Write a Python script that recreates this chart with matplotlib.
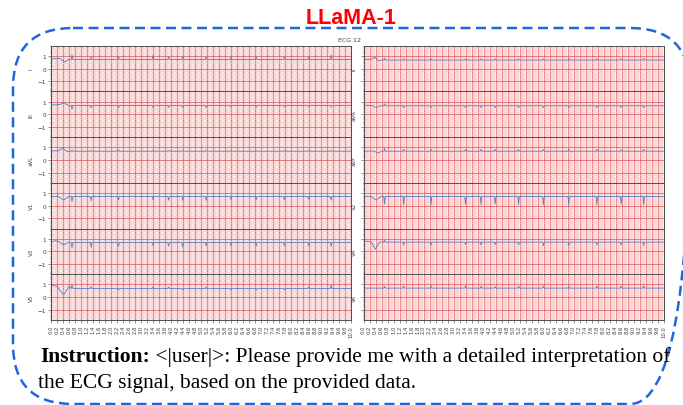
import numpy as np
import matplotlib
matplotlib.use('Agg')
import matplotlib.pyplot as plt
from matplotlib.patches import FancyBboxPatch
from matplotlib.ticker import AutoMinorLocator, MultipleLocator

W, H = 683, 406

# beat times (s), shared by every lead
beat_times = [0.70, 1.34, 2.25, 3.40, 3.92, 4.39, 5.17, 6.00, 6.84, 7.78, 8.59, 9.34]

lead_names = ['I', 'II', 'III', 'aVR', 'aVL', 'aVF',
              'V1', 'V2', 'V3', 'V4', 'V5', 'V6']

# flat level of each trace (mV)
baselines = [0.72, 0.67, 0.69, 0.67, 0.69, 0.69,
             0.73, 0.73, 0.71, 0.73, 0.68, 0.71]

# start of each trace, before the first beat
onset_t = [[0, 0.30, 0.45, 0.58],
           [0, 0.25, 0.38, 0.50, 0.60],
           [0, 0.30, 0.45, 0.60],
           [0, 0.30, 0.42, 0.55],
           [0, 0.25, 0.38, 0.55],
           [0, 0.35, 0.50, 0.60],
           [0, 0.25, 0.42, 0.60],
           [0, 0.25, 0.42, 0.60],
           [0, 0.15, 0.30, 0.42, 0.60],
           [0, 0.25, 0.40, 0.52, 0.60],
           [0, 0.20, 0.42, 0.60],
           [0, 0.60]]
onset_v = [[0.75, 0.80, 0.50, 0.72],
           [0.70, 0.72, 0.88, 0.62, 0.67],
           [0.72, 0.78, 0.90, 0.65],
           [0.70, 0.68, 0.53, 0.67],
           [0.72, 0.72, 0.93, 0.65],
           [0.70, 0.70, 0.56, 0.69],
           [0.75, 0.72, 0.44, 0.72],
           [0.75, 0.72, 0.44, 0.75],
           [0.72, 0.85, 0.72, 0.52, 0.72],
           [0.82, 0.75, 0.17, 0.72, 0.75],
           [0.97, 0.85, 0.17, 0.85],
           [0.71, 0.71]]

# spike height at each beat, relative to baseline (mV)
spike_amp = [
    [0.35, 0.20, 0.20, 0.30, 0.20, 0.20, 0.20, 0.20, 0.20, 0.20, 0.20, 0.35],
    [0.15, 0.10, 0.12, 0.10, 0.10, 0.10, 0.10, 0.10, 0.12, 0.10, 0.10, 0.12],
    [-0.30, -0.18, -0.18, -0.15, -0.15, -0.15, -0.15, -0.12, -0.12, -0.12, -0.12, -0.12],
    [0.15, -0.15, -0.15, -0.15, -0.15, -0.15, -0.15, -0.15, -0.15, -0.15, -0.15, -0.15],
    [0.10, 0.06, 0.10, 0.06, 0.06, 0.06, 0.06, 0.06, 0.06, 0.06, 0.06, 0.06],
    [0.20, 0.15, 0.15, 0.15, 0.15, 0.15, 0.15, 0.15, 0.15, 0.15, 0.12, 0.15],
    [-0.40, -0.35, -0.27, -0.27, -0.30, -0.30, -0.30, -0.27, -0.27, -0.27, -0.22, -0.30],
    [-0.60, -0.65, -0.65, -0.60, -0.65, -0.60, -0.65, -0.65, -0.65, -0.65, -0.60, -0.65],
    [-0.45, -0.40, -0.30, -0.25, -0.30, -0.35, -0.27, -0.27, -0.30, -0.27, -0.27, -0.30],
    [0.15, -0.22, -0.25, -0.18, -0.22, -0.18, -0.20, -0.27, -0.27, -0.22, -0.22, -0.27],
    [0.30, 0.15, -0.12, 0.12, 0.12, -0.10, 0.12, -0.15, -0.12, -0.12, 0.12, 0.30],
    [0.15, 0.15, 0.20, 0.18, 0.15, 0.12, 0.18, 0.18, 0.15, 0.15, 0.15, 0.18],
]

fig = plt.figure(figsize=(W / 100, H / 100), dpi=100)
fig.patch.set_facecolor('white')

# layout of the ecg panel in pixels
left, right, top, bottom = 51, 663.5, 46.7, 321
axes = fig.subplots(6, 2, sharex=True, sharey=True)
fig.subplots_adjust(left=left / W, right=right / W, top=1 - top / H,
                    bottom=1 - bottom / H, hspace=0, wspace=12.5 / 300)

for i, name in enumerate(lead_names):
    ax = axes[i // 2, i % 2]
    b = baselines[i]
    t = list(onset_t[i])
    v = list(onset_v[i])
    for bt, a in zip(beat_times, spike_amp[i]):
        t += [bt - 0.025, bt, bt + 0.025]
        v += [b, b + a, b]
    t.append(10.0)
    v.append(b)

    ax.set_facecolor((1, 0.95, 0.95))
    ax.xaxis.set_major_locator(MultipleLocator(0.2))
    ax.xaxis.set_minor_locator(AutoMinorLocator(5))
    ax.yaxis.set_major_locator(MultipleLocator(1))
    ax.yaxis.set_minor_locator(AutoMinorLocator(5))
    ax.grid(which='major', color=(0.88, 0.40, 0.43), linewidth=0.6)
    ax.grid(which='minor', color=(0.98, 0.80, 0.80), linewidth=0.45)
    ax.set_axisbelow(True)
    ax.plot(t, v, color='#5080c4', linewidth=0.6)
    ax.set_xlim(0, 10)
    ax.set_ylim(-1.8, 1.8)
    for s in ax.spines.values():
        s.set_color('0.3')
        s.set_linewidth(0.7)
    ax.tick_params(which='major', length=2, width=0.4, labelsize=4.2, pad=1.5, colors='0.25')
    ax.tick_params(which='minor', length=1, width=0.3, colors='0.25')
    ax.set_ylabel(name, fontsize=4, labelpad=3, color='0.25')
    if i % 2 == 1:
        ax.tick_params(labelleft=False)

for ax in axes[-1]:
    ticks = np.arange(0, 10.01, 0.2)
    ax.set_xticks(ticks)
    ax.set_xticklabels(['%.1f' % x for x in ticks], rotation=90, fontsize=3.8)

fig.text(350 / W, 1 - 41 / H, 'ECG 12', fontsize=4.5, ha='center', va='center', color='0.25')

# model name on top
fig.text(351 / W, 1 - 24 / H, 'LLaMA-1', fontsize=15.5, fontweight='bold',
         color='#ff0000', family='Liberation Sans', ha='center', va='baseline')

# dashed rounded frame, drawn in a pixel-space overlay
over = fig.add_axes([0, 0, 1, 1], zorder=-1)
over.set_xlim(0, W)
over.set_ylim(H, 0)
over.axis('off')
box = FancyBboxPatch((13, 29), 677, 376, boxstyle='round,pad=0,rounding_size=60',
                     facecolor='none', edgecolor='#2266dd', linewidth=1.8,
                     linestyle=(0, (4, 2.2)))
over.add_patch(box)

# instruction text below the panel
t1 = fig.text(40 / W, 1 - 361.7 / H, 'Instruction:', fontsize=15.5, fontweight='bold',
              family='Liberation Serif', va='baseline')
fig.canvas.draw()
bb = t1.get_window_extent()
fig.text(bb.x1 / W, 1 - 361.7 / H, ' <|user|>: Please provide me with a detailed interpretation of',
         fontsize=15.5, family='Liberation Serif', va='baseline')
fig.text(38 / W, 1 - 387.7 / H, 'the ECG signal, based on the provided data.',
         fontsize=15.5, family='Liberation Serif', va='baseline')

fig.savefig('out.png', dpi=100)
